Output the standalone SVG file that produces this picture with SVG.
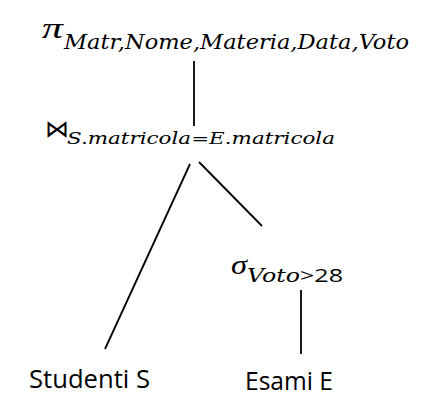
<svg xmlns="http://www.w3.org/2000/svg" width="430" height="412" viewBox="0 0 430 412">
<style>
.op{font-family:"Liberation Serif","DejaVu Serif",serif;font-style:italic;fill:#000}
.sub{font-family:"DejaVu Serif","Liberation Serif",serif;font-style:italic;fill:#000}
.sym{font-family:"DejaVu Sans","Noto Sans",sans-serif;font-weight:200;fill:#000}
.up{font-family:"Open Sans","Liberation Sans",sans-serif;fill:#000}
.rel{font-family:"Open Sans","Liberation Sans",sans-serif;font-size:26px;fill:#000}
.edge{stroke:#000;stroke-width:1.8;fill:none}
</style>
<rect width="430" height="412" fill="#fff"/>
<g id="connectors">
<line class="edge" x1="194" y1="61" x2="194" y2="126"/>
<line class="edge" x1="190" y1="164" x2="105" y2="349"/>
<line class="edge" x1="199" y1="162" x2="262" y2="226"/>
<line class="edge" x1="301" y1="290" x2="301" y2="354"/>
</g>
<g id="projection">
<text class="op" x="42" y="38" font-size="30" textLength="21" lengthAdjust="spacingAndGlyphs">π</text>
<text class="sub" x="64" y="49" font-size="21" textLength="345" lengthAdjust="spacingAndGlyphs">Matr,Nome,Materia,Data,Voto</text>
</g>
<g id="join">
<text class="sym" x="45" y="137" font-size="24">⋈</text>
<text class="sub" x="67" y="144" font-size="17" textLength="268" lengthAdjust="spacingAndGlyphs">S.matricola=E.matricola</text>
</g>
<g id="selection">
<text class="op" x="231" y="274" font-size="28" textLength="16" lengthAdjust="spacingAndGlyphs">σ</text>
<text class="sub" x="247" y="282" font-size="19" textLength="53" lengthAdjust="spacingAndGlyphs">Voto</text>
<text class="up" x="300" y="282" font-size="19" textLength="43" lengthAdjust="spacingAndGlyphs">&gt;28</text>
</g>
<g id="studenti">
<text class="rel" x="29" y="388" textLength="121" lengthAdjust="spacingAndGlyphs">Studenti S</text>
</g>
<g id="esami">
<text class="rel" x="245" y="390" textLength="88" lengthAdjust="spacingAndGlyphs">Esami E</text>
</g>
</svg>
